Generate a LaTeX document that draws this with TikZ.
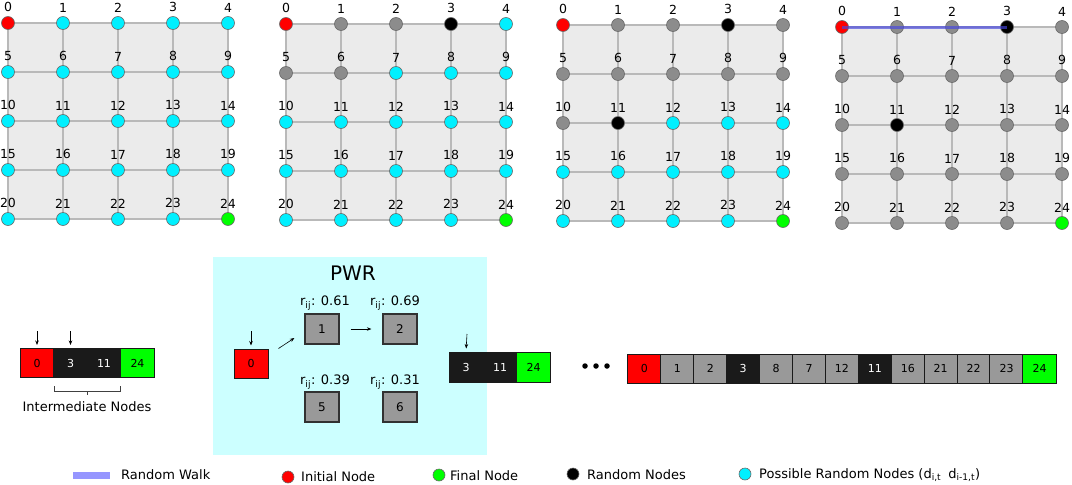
\documentclass[tikz,border=0pt]{standalone}
\usepackage{fontspec}
\setmainfont{DejaVu Sans}
\usetikzlibrary{arrows.meta}
\pgfdeclarelayer{bg}
\pgfsetlayers{bg,main}
\definecolor{col0}{RGB}{255,0,0}
\definecolor{col1}{RGB}{0,240,255}
\definecolor{col2}{RGB}{140,140,140}
\definecolor{col3}{RGB}{0,0,0}
\definecolor{col4}{RGB}{0,255,0}
\definecolor{nborder}{RGB}{105,105,105}
\definecolor{gridbg}{RGB}{235,235,235}
\definecolor{gridline}{RGB}{185,185,185}
\definecolor{cc0}{RGB}{255,0,0}
\definecolor{cc2}{RGB}{153,153,153}
\definecolor{cc3}{RGB}{26,26,26}
\definecolor{cc4}{RGB}{0,255,0}
\colorlet{ct0}{black}
\colorlet{ct2}{black}
\colorlet{ct3}{white}
\colorlet{ct4}{black}
\definecolor{pwrbg}{RGB}{204,255,255}
\definecolor{walk}{RGB}{150,150,255}
\definecolor{walkline}{RGB}{70,70,225}
\def\codes{{0,1,1,1,1, 1,1,1,1,1, 1,1,1,1,1, 1,1,1,1,1, 1,1,1,1,4,
            0,2,2,3,1, 2,2,1,1,1, 1,1,1,1,1, 1,1,1,1,1, 1,1,1,1,4,
            0,2,2,3,2, 2,2,2,2,2, 2,3,1,1,1, 1,1,1,1,1, 1,1,1,1,4,
            0,2,2,3,2, 2,2,2,2,2, 2,3,2,2,2, 2,2,2,2,2, 2,2,2,2,4}}
\begin{document}
\begin{tikzpicture}[x=1pt,y=-1pt,
  gn/.style={circle,draw=nborder,line width=0.6pt,minimum size=13pt,inner sep=0pt},
  num/.style={font=\fontsize{12.5}{14}\selectfont,inner sep=0pt,text=black},
  gl/.style={draw=gridline,line width=1.1pt},
  cell/.style={rectangle,draw=cc3,line width=1pt,minimum width=33.4pt,minimum height=29pt,inner sep=0pt,font=\fontsize{11}{13}\selectfont},
  box/.style={rectangle,draw=cc3!90,line width=1.2pt,fill=cc2,minimum width=34pt,minimum height=30pt,inner sep=0pt,font=\fontsize{12}{14}\selectfont},
  arr/.style={-{Stealth[length=4.5pt,width=3.5pt]},line width=0.6pt,draw=black},
  lt/.style={font=\fontsize{13}{15}\selectfont,inner sep=0pt,anchor=west},
  rl/.style={font=\fontsize{13}{15}\selectfont,inner sep=0pt},
  dotn/.style={circle,fill=black,inner sep=0pt,minimum size=5.5pt}
]
\useasboundingbox (0,0) rectangle (1072,485);

% ---------------- grids ----------------
\foreach \g/\xo/\yo in {1/8/23,2/286/24,3/563/25,4/842/27}{
  \foreach \r in {0,...,4}{
    \foreach \c in {0,...,4}{
      \pgfmathtruncatemacro{\i}{5*\r+\c}
      \pgfmathtruncatemacro{\k}{\codes[25*(\g-1)+\i]}
      \node[gn,fill=col\k,label={[num,label distance=4pt]above:\i}] (g\g-\i) at ({\xo+55*\c},{\yo+49*\r}) {};
    }
  }
  \begin{pgfonlayer}{bg}
    \fill[gridbg] (g\g-0.center) rectangle (g\g-24.center);
    \foreach \r in {0,...,4}{
      \pgfmathtruncatemacro{\a}{5*\r}
      \pgfmathtruncatemacro{\b}{5*\r+4}
      \draw[gl] (g\g-\a.center) -- (g\g-\b.center);
    }
    \foreach \c in {0,...,4}{
      \pgfmathtruncatemacro{\b}{20+\c}
      \draw[gl] (g\g-\c.center) -- (g\g-\b.center);
    }
  \end{pgfonlayer}
}
\draw[walkline,line width=3pt,opacity=0.65] (g4-0.center) -- (g4-3.center);

% ---------------- first array ----------------
\node[cell,fill=cc0,text=ct0] (a0) at (37,363) {0};
\node[cell,fill=cc3,text=ct3] (a3) at (70.5,363) {3};
\node[cell,fill=cc3,text=ct3] (a11) at (104,363) {11};
\node[cell,fill=cc4,text=ct4] (a24) at (137.5,363) {24};
\coordinate (a0t) at (37,331);
\coordinate (a3t) at (70.5,331);
\draw[arr,shorten >=3pt] (a0t) -- (a0.north);
\draw[arr,shorten >=3pt] (a3t) -- (a3.north);
\draw[draw=black!75,line width=0.8pt] (54,386) -- (54,391) -- (120,391) -- (120,386) (87,391) -- (87,395);
\node[font=\fontsize{13}{15}\selectfont,inner sep=0pt] (inter) at (87,407) {Intermediate Nodes};

% ---------------- PWR ----------------
\fill[pwrbg] (213,257) rectangle (487,455);
\node[font=\fontsize{20}{24}\selectfont,inner sep=0pt] (pwr) at (353,273) {PWR};
\node[cell,fill=cc0,text=ct0,minimum width=34pt] (p0) at (251,363.5) {0};
\node[box] (p1) at (322,329) {1};
\node[box] (p2) at (400,329) {2};
\node[box] (p5) at (322,407) {5};
\node[box] (p6) at (400,407) {6};
\node[rl] (r1) at (325,303) {r\textsubscript{ij}: 0.61};
\node[rl] (r2) at (395,303) {r\textsubscript{ij}: 0.69};
\node[rl] (r5) at (325,382) {r\textsubscript{ij}: 0.39};
\node[rl] (r6) at (395,382) {r\textsubscript{ij}: 0.31};
\coordinate (p0t) at (251,331);
\draw[arr,shorten >=3pt] (p0t) -- (p0.north);
\draw[arr] ([xshift=10pt]p0.north east) -- ([xshift=-10pt,yshift=-9pt]p1.west);
\draw[arr,shorten <=11pt,shorten >=11pt] (p1.east) -- (p2.west);

% second array
\node[cell,fill=cc3,text=ct3,minimum width=34pt,minimum height=30pt] (b3) at (466,367) {3};
\node[cell,fill=cc3,text=ct3,minimum width=34pt,minimum height=30pt] (b11) at (500,367) {11};
\node[cell,fill=cc4,text=ct4,minimum width=34pt,minimum height=30pt] (b24) at (533.5,367) {24};
\coordinate (b3t) at (467,334);
\draw[arr,shorten >=3pt] (b3t) -- (b3.north);

% dots
\node[dotn] (d1) at (585,366) {};
\node[dotn] (d2) at (596,366) {};
\node[dotn] (d3) at (607,366) {};

% ---------------- long array ----------------
\foreach \lab/\k [count=\n from 0] in {0/0,1/2,2/2,3/3,8/2,7/2,12/2,11/3,16/2,21/2,22/2,23/2,24/4}{
  \node[cell,fill=cc\k,text=ct\k,minimum width=33.2pt] (c\n) at ({628+32.92*(\n+0.5)},368.5) {\lab};
}

% ---------------- legend ----------------
\fill[walk] (73,471.5) rectangle (110,478.5);
\node[lt] (lwalk) at (121,475) {Random Walk};
\node[gn,fill=col0,minimum size=12pt] (lred) at (288,477) {};
\node[lt] (tred) at (301,477) {Initial Node};
\node[gn,fill=col4,minimum size=12pt] (lgreen) at (439,475) {};
\node[lt] (tgreen) at (450,476) {Final Node};
\node[gn,fill=col3,minimum size=12pt] (lblack) at (573,474) {};
\node[lt] (tblack) at (587,475) {Random Nodes};
\node[gn,fill=col1,minimum size=12pt] (lcyan) at (745,474) {};
\node[lt] (tcyan) at (759,475) {Possible Random Nodes (d\textsubscript{i,t}\hspace{7pt}d\textsubscript{i-1,t})};
\end{tikzpicture}
\end{document}
